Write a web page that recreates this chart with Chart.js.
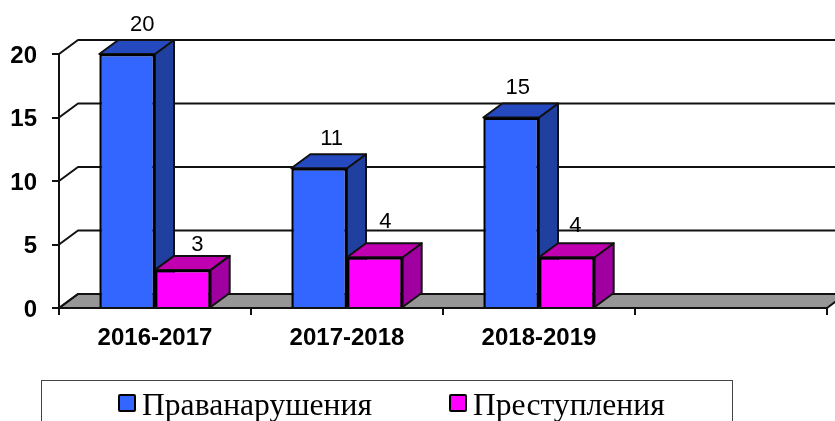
<!DOCTYPE html>
<html lang="ru">
<head>
<meta charset="utf-8">
<title>Правонарушения и преступления</title>
<script src="https://cdn.jsdelivr.net/npm/chart.js@4"></script>
<style>
  html, body { margin: 0; padding: 0; background: #fff; overflow: hidden; }
  #wrap { position: relative; width: 835px; height: 421px; overflow: hidden; }
  #legend {
    position: absolute; left: 41px; top: 380px; width: 692px; height: 60px;
    border: 1px solid #444; box-sizing: border-box;
    font-family: "Liberation Serif", serif; font-size: 31.6px; color: #000;
  }
  .legend-item { position: absolute; top: 6px; white-space: nowrap; line-height: 36px; }
  .legend-box {
    position: absolute; left: 0; top: 7px; width: 18px; height: 18px;
    border: 2px solid #000; border-radius: 2px; box-sizing: border-box;
  }
  .legend-text { position: absolute; left: 24px; top: 0; }
</style>
</head>
<body>
<div id="wrap">
  <canvas id="chart" width="835" height="421"></canvas>
  <div id="legend"></div>
</div>
<script>
// Chart data
const categories = ['2016-2017', '2017-2018', '2018-2019', ''];
const offences = [20, 11, 15, null];
const crimes = [3, 4, 4, null];
const yTicks = [0, 5, 10, 15, 20];

// 3D look
const DEPTH_X = 19;
const DEPTH_Y = 14;
const LINE_COLOR = '#111';
const faces = [
  { front: '#3366ff', top: '#2549be', side: '#2040a0' },
  { front: '#ff00ff', top: '#c000b0', side: '#a000a0' }
];

// Value label nudges, per dataset and category
const labelNudgeX = [[15, 12.5, 6.5], [14.5, 10.5, 8.5]];
const labelNudgeY = [[-29, -29, -30], [-25, -35, -31]];

function fillFace(ctx, points, color) {
  ctx.beginPath();
  points.forEach((p, i) => (i ? ctx.lineTo(p[0], p[1]) : ctx.moveTo(p[0], p[1])));
  ctx.closePath();
  ctx.fillStyle = color;
  ctx.fill();
  ctx.stroke();
}

// Floor, back wall lines and the side and top faces of the bars
const depthPlugin = {
  id: 'depth',
  beforeDatasetsDraw(chart) {
    const { ctx, scales } = chart;
    const left = scales.x.left;
    const right = scales.x.right;
    const y0 = scales.y.getPixelForValue(0);

    ctx.save();
    ctx.strokeStyle = LINE_COLOR;
    ctx.lineWidth = 2;
    ctx.lineJoin = 'round';

    fillFace(ctx, [
      [left, y0], [right, y0],
      [right + DEPTH_X, y0 - DEPTH_Y], [left + DEPTH_X, y0 - DEPTH_Y]
    ], '#969696');

    yTicks.forEach(value => {
      const y = scales.y.getPixelForValue(value);
      ctx.beginPath();
      ctx.moveTo(left, y);
      ctx.lineTo(left + DEPTH_X, y - DEPTH_Y);
      ctx.lineTo(right + DEPTH_X, y - DEPTH_Y);
      ctx.stroke();
    });

    chart.data.datasets.forEach((dataset, d) => {
      chart.getDatasetMeta(d).data.forEach((bar, i) => {
        if (dataset.data[i] === null) return;
        const { x, y, base, width } = bar.getProps(['x', 'y', 'base', 'width'], true);
        const l = x - width / 2;
        const r = x + width / 2;
        fillFace(ctx, [
          [r, y], [r + DEPTH_X, y - DEPTH_Y],
          [r + DEPTH_X, base - DEPTH_Y], [r, base]
        ], faces[d].side);
        fillFace(ctx, [
          [l, y], [l + DEPTH_X, y - DEPTH_Y],
          [r + DEPTH_X, y - DEPTH_Y], [r, y]
        ], faces[d].top);
      });
    });
    ctx.restore();
  },
  afterDatasetsDraw(chart) {
    const { ctx } = chart;
    ctx.save();
    ctx.font = '22px "Liberation Sans", Arial, sans-serif';
    ctx.fillStyle = '#000';
    ctx.textAlign = 'center';
    ctx.textBaseline = 'middle';
    chart.data.datasets.forEach((dataset, d) => {
      chart.getDatasetMeta(d).data.forEach((bar, i) => {
        if (dataset.data[i] === null) return;
        const { x, y } = bar.getProps(['x', 'y'], true);
        ctx.fillText(dataset.data[i], x + labelNudgeX[d][i], y + labelNudgeY[d][i]);
      });
    });
    ctx.restore();
  }
};

const axisFont = { family: '"Liberation Sans", Arial, sans-serif', size: 24, weight: 'bold' };

const chart = new Chart(document.getElementById('chart'), {
  type: 'bar',
  data: {
    labels: categories,
    datasets: [
      { label: 'Праванарушения', data: offences, backgroundColor: faces[0].front },
      { label: 'Преступления', data: crimes, backgroundColor: faces[1].front }
    ]
  },
  options: {
    responsive: false,
    animation: false,
    layout: { padding: { top: 54, right: 8, left: 0, bottom: 0 } },
    categoryPercentage: 0.58,
    barPercentage: 1,
    borderColor: '#000',
    borderWidth: 2.5,
    plugins: { legend: { display: false }, tooltip: { enabled: false } },
    scales: {
      x: {
        afterFit(scale) { scale.height = 113; },
        grid: { drawOnChartArea: false, color: LINE_COLOR, lineWidth: 2, tickLength: 7 },
        border: { color: LINE_COLOR, width: 2 },
        ticks: { color: '#000', font: axisFont, padding: 9, maxRotation: 0, autoSkip: false }
      },
      y: {
        min: 0,
        max: 20,
        afterFit(scale) { scale.width = 59; },
        afterBuildTicks(scale) { scale.ticks = yTicks.map(value => ({ value })); },
        grid: { drawOnChartArea: false, color: LINE_COLOR, lineWidth: 2, tickLength: 7 },
        border: { color: LINE_COLOR, width: 2 },
        ticks: { color: '#000', font: axisFont, padding: 15, labelOffset: 2 }
      }
    }
  },
  plugins: [depthPlugin]
});

// Legend is built from the datasets
const legendEl = document.getElementById('legend');
const legendLeft = [76, 407];
chart.data.datasets.forEach((dataset, i) => {
  const item = document.createElement('div');
  item.className = 'legend-item';
  item.style.left = legendLeft[i] + 'px';

  const box = document.createElement('span');
  box.className = 'legend-box';
  box.style.background = dataset.backgroundColor;

  const text = document.createElement('span');
  text.className = 'legend-text';
  text.textContent = dataset.label;

  item.appendChild(box);
  item.appendChild(text);
  legendEl.appendChild(item);
});
</script>
</body>
</html>
